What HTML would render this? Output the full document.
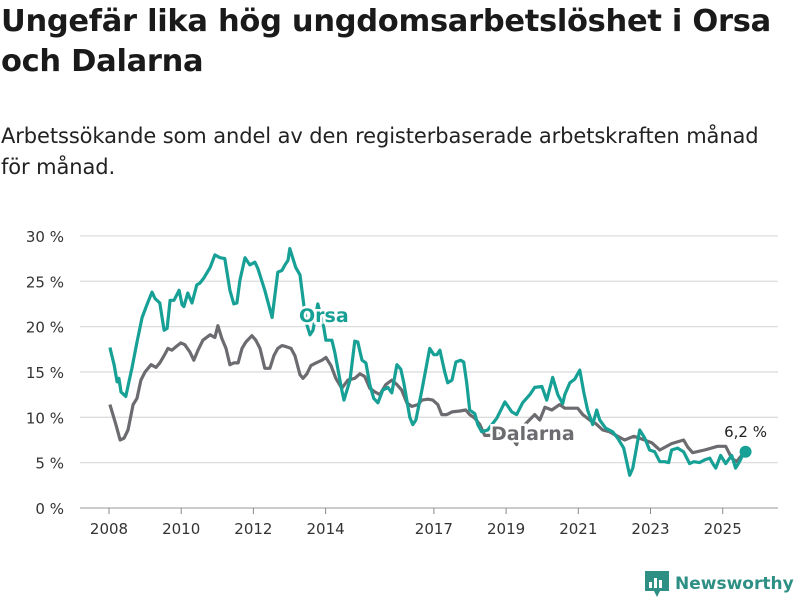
<!DOCTYPE html>
<html><head><meta charset="utf-8">
<style>
body{margin:0;background:#fff;width:800px;height:600px;overflow:hidden;font-family:"Liberation Sans","DejaVu Sans",sans-serif;}
#title{position:absolute;left:1px;top:2px;font-size:30.5px;font-weight:bold;line-height:40px;color:#1a1a1a;margin:0;font-family:"DejaVu Sans",sans-serif;letter-spacing:-0.3px;white-space:nowrap}
#subtitle{position:absolute;left:1px;top:121px;font-size:21px;line-height:31px;color:#222;font-family:"DejaVu Sans",sans-serif;margin:0;white-space:nowrap;letter-spacing:-0.1px}
svg{position:absolute;left:0;top:0}
</style></head><body>
<h1 id="title">Ungefär lika hög ungdomsarbetslöshet i Orsa<br>och Dalarna</h1>
<p id="subtitle">Arbetssökande som andel av den registerbaserade arbetskraften månad<br>för månad.</p>
<svg id="chart" width="800" height="600"></svg>
<script>
const yTicks=[0,5,10,15,20,25,30];
const xTickYears=[2008,2010,2012,2014,2017,2019,2021,2023,2025];
const orsaMonths=[0.3,1.7,2.7,3.3,4,5.6,6.6,7.6,9.3,11,12.6,14.3,15.3,16.9,18.3,19.3,20.3,21.6,23.3,24.3,24.9,26.2,27.6,29.2,30.2,31.6,33.6,35.2,36.9,38.5,40.2,41.5,42.5,43.5,45.2,46.8,48.5,49.5,51.8,54.2,56.1,57.5,58.5,59.5,60.1,62.1,63.5,64.8,65.8,66.8,67.8,69.4,71.4,72.1,74.1,75.1,77.4,78.1,80.1,81.7,82.7,84.1,85.4,86.7,88,89.4,91,92.7,94,95.7,97,98,100,101,102,104,106.6,108,109,110,111.6,112.6,114,115.3,116.9,117.9,118.9,119.9,121.6,122.6,123.9,125.9,128.9,131.6,133.9,135.5,137.5,139.9,141.5,143.9,145.5,147.5,149.2,150.8,151.5,153.2,154.8,156.5,157.8,159.1,160.8,162.1,163.1,165.1,167.4,169.1,171.1,173.1,174.1,176.4,178.1,179.7,181.4,183.1,184.7,186,187,189,191,193,194.4,196.3,198,199.7,200.7,201.7,203.3,205,207,208.3,209.6,211,211.6];
const orsaValues=[17.7,15.8,13.9,14.3,12.8,12.3,13.9,15.4,18.3,21,22.4,23.8,23.1,22.6,19.6,19.8,22.9,22.9,24,22.4,22.2,23.7,22.6,24.6,24.8,25.4,26.5,27.9,27.6,27.5,24,22.5,22.6,25.1,27.6,26.8,27.1,26.4,24,21,26,26.2,26.8,27.3,28.6,26.5,25.7,22.3,20.2,19.1,19.6,22.5,19.9,18.5,18.5,17.1,13,11.9,14.1,18.4,18.3,16.3,16,13.6,12.1,11.6,13,13.3,12.7,15.8,15.3,13.8,10,9.2,9.7,13,17.6,16.9,16.9,17.4,15,13.8,14.1,16.1,16.3,16.1,13.8,10.8,10.4,9.2,8.4,8.6,9.9,11.7,10.6,10.3,11.6,12.5,13.3,13.4,11.9,14.4,12.5,11.5,12.5,13.8,14.2,15.2,12.8,10.8,9.2,10.8,9.7,8.8,8.4,7.7,6.6,3.6,4.4,8.6,7.7,6.4,6.2,5.1,5.1,5,6.4,6.6,6.2,4.9,5.1,5,5.3,5.5,4.9,4.4,5.8,4.9,5.8,4.4,5.1,6.1,6.2];
const dalMonths=[0.3,2.3,3.7,5,6.3,8,9.3,10.6,12,14,15.6,16.9,18.3,19.6,20.9,22.3,23.9,25.2,26.9,28.2,29.6,31.2,33.6,35.2,36.2,37.5,38.9,40.2,41.5,42.9,44.2,45.5,47.5,48.8,50.2,51.8,53.5,54.8,56.1,57.5,58.8,60.5,61.8,63.5,64.5,65.8,67.1,68.8,70.8,72.1,73.8,75.4,77.4,79.4,81.7,83.4,85,86.7,88.4,90,92,94,95.7,97.3,99,100.7,102.7,104,106,107.6,109.3,110.6,112.3,114,116.6,118.6,119.9,121.6,123.3,124.9,126.6,129.9,133.2,135.5,136.5,138.2,141.5,143.2,144.9,147.2,149.8,151.5,153.8,155.8,157.5,159.8,161.8,164.1,166.4,169.1,171.4,174.4,176.4,180.4,183.1,187,191,192.4,194,198,202.3,205,207,208.6,210.3,211.6];
const dalValues=[11.4,9.2,7.5,7.7,8.6,11.4,12.1,14.1,15,15.8,15.5,16,16.8,17.6,17.4,17.8,18.2,18,17.2,16.3,17.4,18.5,19.1,18.8,20.1,18.7,17.6,15.8,16,16,17.6,18.3,19,18.5,17.6,15.4,15.4,16.8,17.6,17.9,17.8,17.6,16.8,14.7,14.3,14.8,15.7,16,16.3,16.6,15.7,14.3,13.2,14.1,14.3,14.8,14.5,13.2,12.8,12.5,13.6,14.1,13.6,13,11.6,11.2,11.4,11.9,12,11.9,11.4,10.3,10.3,10.6,10.7,10.8,10.3,9.9,9.2,8,8,8.2,8,7,8,9.2,10.3,9.7,11.1,10.8,11.4,11,11,11,10.3,9.7,9.3,8.6,8.4,7.9,7.5,7.9,7.7,7.2,6.4,7.1,7.5,6.7,6.1,6.4,6.8,6.8,5.5,5.1,5.8,6.2];

const NS='http://www.w3.org/2000/svg';
const svg=document.getElementById('chart');
const xScale=m=>109+m*36.1/12;
const yScale=v=>508-v*9.07;
function mk(tag,attrs){const e=document.createElementNS(NS,tag);for(const k in attrs)e.setAttribute(k,attrs[k]);svg.appendChild(e);return e;}

yTicks.forEach(t=>{
  const g=mk('line',{x1:80,x2:778,y1:yScale(t),y2:yScale(t),stroke:t===0?'#bbb':'#ddd','stroke-width':t===0?1.5:1.3});
  
  
  const l=mk('text',{x:64,y:yScale(t)+6,'text-anchor':'end','font-size':15,fill:'#333','font-family':'DejaVu Sans, sans-serif'});
  l.textContent=t+' %';
  
  
});
xTickYears.forEach(y=>{
  const x=xScale((y-2008)*12);
  const tk=mk('line',{x1:x,x2:x,y1:508,y2:514,stroke:'#888','stroke-width':1});
  
  
  const l=mk('text',{x:x,y:534,'text-anchor':'middle','font-size':15,fill:'#333','font-family':'DejaVu Sans, sans-serif'});
  l.textContent=y;
  
  
});
function path(ms,vs){return ms.map((m,i)=>(i?'L':'M')+xScale(m).toFixed(1)+','+yScale(vs[i]).toFixed(1)).join('');}
const dl=mk('path',{d:path(dalMonths,dalValues),fill:'none',stroke:'#6c6b70','stroke-width':3.2,'stroke-linejoin':'round'});


const ol=mk('path',{d:path(orsaMonths,orsaValues),fill:'none',stroke:'#17a095','stroke-width':3.2,'stroke-linejoin':'round'});


const lm=orsaMonths[orsaMonths.length-1], lv=orsaValues[orsaValues.length-1];
const dot=mk('circle',{cx:xScale(lm),cy:yScale(lv),r:6,fill:'#17a095'});


const vl=mk('text',{x:xScale(lm),y:yScale(lv)-15,'text-anchor':'middle','font-size':15,fill:'#222','font-family':'DejaVu Sans, sans-serif',stroke:'#fff','stroke-width':4,'paint-order':'stroke'});
vl.textContent=String(lv).replace('.',',')+' %';


const on=mk('text',{x:299,y:322,'font-size':19,'font-weight':'bold',fill:'#17a095','font-family':'DejaVu Sans, sans-serif',stroke:'#fff','stroke-width':5,'paint-order':'stroke'});
on.textContent='Orsa';


const dn=mk('text',{x:491,y:440,'font-size':19,'font-weight':'bold',fill:'#6c6b70','font-family':'DejaVu Sans, sans-serif',stroke:'#fff','stroke-width':5,'paint-order':'stroke'});
dn.textContent='Dalarna';


</script>
<div style="position:absolute;left:645px;top:570px;height:28px;display:flex;align-items:center;">
  <svg width="24" height="26" viewBox="0 0 24 26" style="position:static"><path d="M0 0H24V20H15L12 26L9 20H0Z" fill="#2e8f85"/><rect x="4" y="11" width="3" height="6" fill="#fff"/><rect x="9" y="7" width="3" height="10" fill="#fff"/><rect x="14" y="9" width="3" height="8" fill="#fff"/></svg>
  <span style="margin-left:6px;font-size:17px;font-weight:bold;color:#2e8f85;font-family:'DejaVu Sans',sans-serif">Newsworthy</span>
</div>
</body></html>
